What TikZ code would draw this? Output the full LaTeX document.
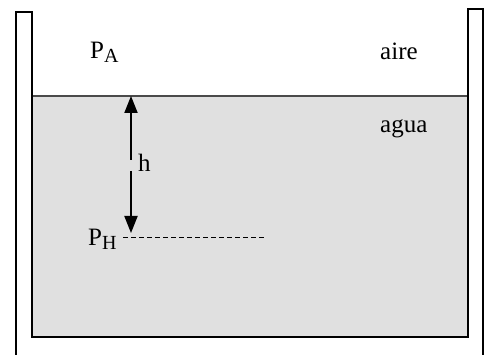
\documentclass[tikz,border=0pt]{standalone}
\usepackage{fontspec}
\setmainfont{Liberation Serif}
\usetikzlibrary{arrows.meta}
\definecolor{water}{HTML}{E0E0E0}
\definecolor{surf}{HTML}{4A4A4A}
\newcommand{\bigtxt}{\fontsize{25}{29}\selectfont}
\newcommand{\subtxt}[1]{\raisebox{-4pt}{\fontsize{20}{20}\selectfont #1}}
\begin{document}
\begin{tikzpicture}[x=1pt,y=-1pt,
  wall/.style={draw=black,line width=2pt},
  lbl/.style={anchor=base west,inner sep=0pt,font=\bigtxt},
  harrow/.style={line width=2pt,-{Triangle[length=17pt,width=13pt]}},
  level/.style={line width=0.8pt,dash pattern=on 5pt off 3pt}]
\useasboundingbox (0,0) rectangle (491,355);
% water
\fill[water] (32,96) rectangle (468,337);
\draw[surf,line width=1.5pt] (32,96) -- (468,96);
% walls
\draw[wall] (16,358) -- (16,12) -- (32,12) -- (32,337) -- (468,337) -- (468,9) -- (483,9) -- (483,358);
% coordinates
\coordinate (top) at (131,96);
\coordinate (bot) at (131,233);
\coordinate (gapA) at (131,160);
\coordinate (gapB) at (131,171);
\coordinate (dashEnd) at (265,237);
\coordinate (dashStart) at (123,237);
% arrows
\draw[harrow] (gapA) -- (top);
\draw[harrow] (gapB) -- (bot);
\draw[level] (dashStart) -- (dashEnd);
% labels
\node[lbl] (h) at (138,172) {h};
\node[lbl] (pa) at (90,59) {P\subtxt{A}};
\node[lbl] (ph) at (88,246) {P\subtxt{H}};
\node[lbl] (aire) at (380,60) {aire};
\node[lbl] (agua) at (380,133) {agua};
\end{tikzpicture}
\end{document}
